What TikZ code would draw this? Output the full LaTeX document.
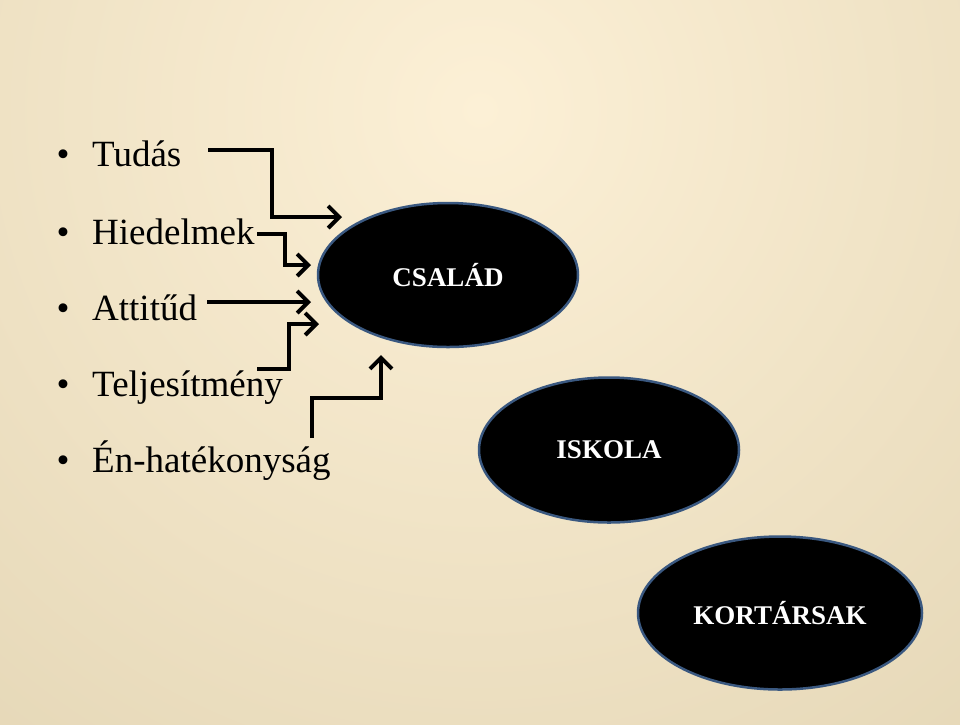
\documentclass[tikz,border=0pt]{standalone}
\usepackage{fontspec}
\setmainfont{Liberation Serif}
\usetikzlibrary{shapes.geometric,arrows.meta}
\definecolor{bgin}{RGB}{252,240,214}
\definecolor{bgout}{RGB}{212,197,160}
\definecolor{rim}{RGB}{58,88,128}
\tikzset{
  item/.style={anchor=base west,inner sep=0pt,font=\fontsize{37}{44}\selectfont},
  bul/.style={anchor=base,inner sep=0pt,font=\fontsize{37}{44}\selectfont},
  blob/.style={ellipse,fill=black,draw=rim,line width=2.5pt,inner sep=0pt,
     text=white,font=\fontsize{27}{31}\selectfont\bfseries},
  link/.style={line width=4pt,line join=miter,
     -{Straight Barb[length=11pt,width=22pt,line width=4pt]}}
}
\begin{document}
\begin{tikzpicture}[x=1pt,y=-1pt]
\useasboundingbox (0,0) rectangle (960,724);
\begin{scope}
\clip (0,0) rectangle (960,724);
\fill[bgout] (0,0) rectangle (960,724);
\shade[inner color=bgin,outer color=bgout] (480,110) circle (1450);
\end{scope}
% bullets and items
\foreach \y/\n in {166/b1,244/b2,320/b3,396/b4,472/b5}
  \node[bul] (\n) at (63,\y) {\textbullet};
\node[item] (tudas) at (92,166) {Tudás};
\node[item] (hied) at (92,244) {Hiedelmek};
\node[item] (att) at (92,320) {Attitűd};
\node[item] (telj) at (92,396) {Teljesítmény};
\node[item] (en) at (92,472) {Én-hatékonyság};
% ellipses
\node[blob,minimum width=260pt,minimum height=144pt] (csalad) at (448,275) {CSALÁD};
\node[blob,minimum width=260pt,minimum height=145pt] (iskola) at (609,450) {ISKOLA};
\node[blob,minimum width=284pt,minimum height=153pt] (kort) at (780,613) {KORTÁRSAK};
% connector end points
\coordinate (s1) at (208,150);
\coordinate (t1) at (342,217);
\coordinate (s2) at (257,234);
\coordinate (t2) at (311,265);
\coordinate (s3) at (207,302);
\coordinate (t3) at (311,302);
\coordinate (s4) at (257,369);
\coordinate (t4) at (319,324);
\coordinate (s5) at (312,438);
\coordinate (t5) at (381,355);
% connectors
\draw[link] (s1) -- (272,150) -- (272,217) -- (t1);
\draw[link] (s2) -- (285,234) -- (285,265) -- (t2);
\draw[link] (s3) -- (t3);
\draw[link] (s4) -- (289,369) -- (289,324) -- (t4);
\draw[link] (s5) -- (312,398) -- (381,398) -- (t5);
\end{tikzpicture}
\end{document}
